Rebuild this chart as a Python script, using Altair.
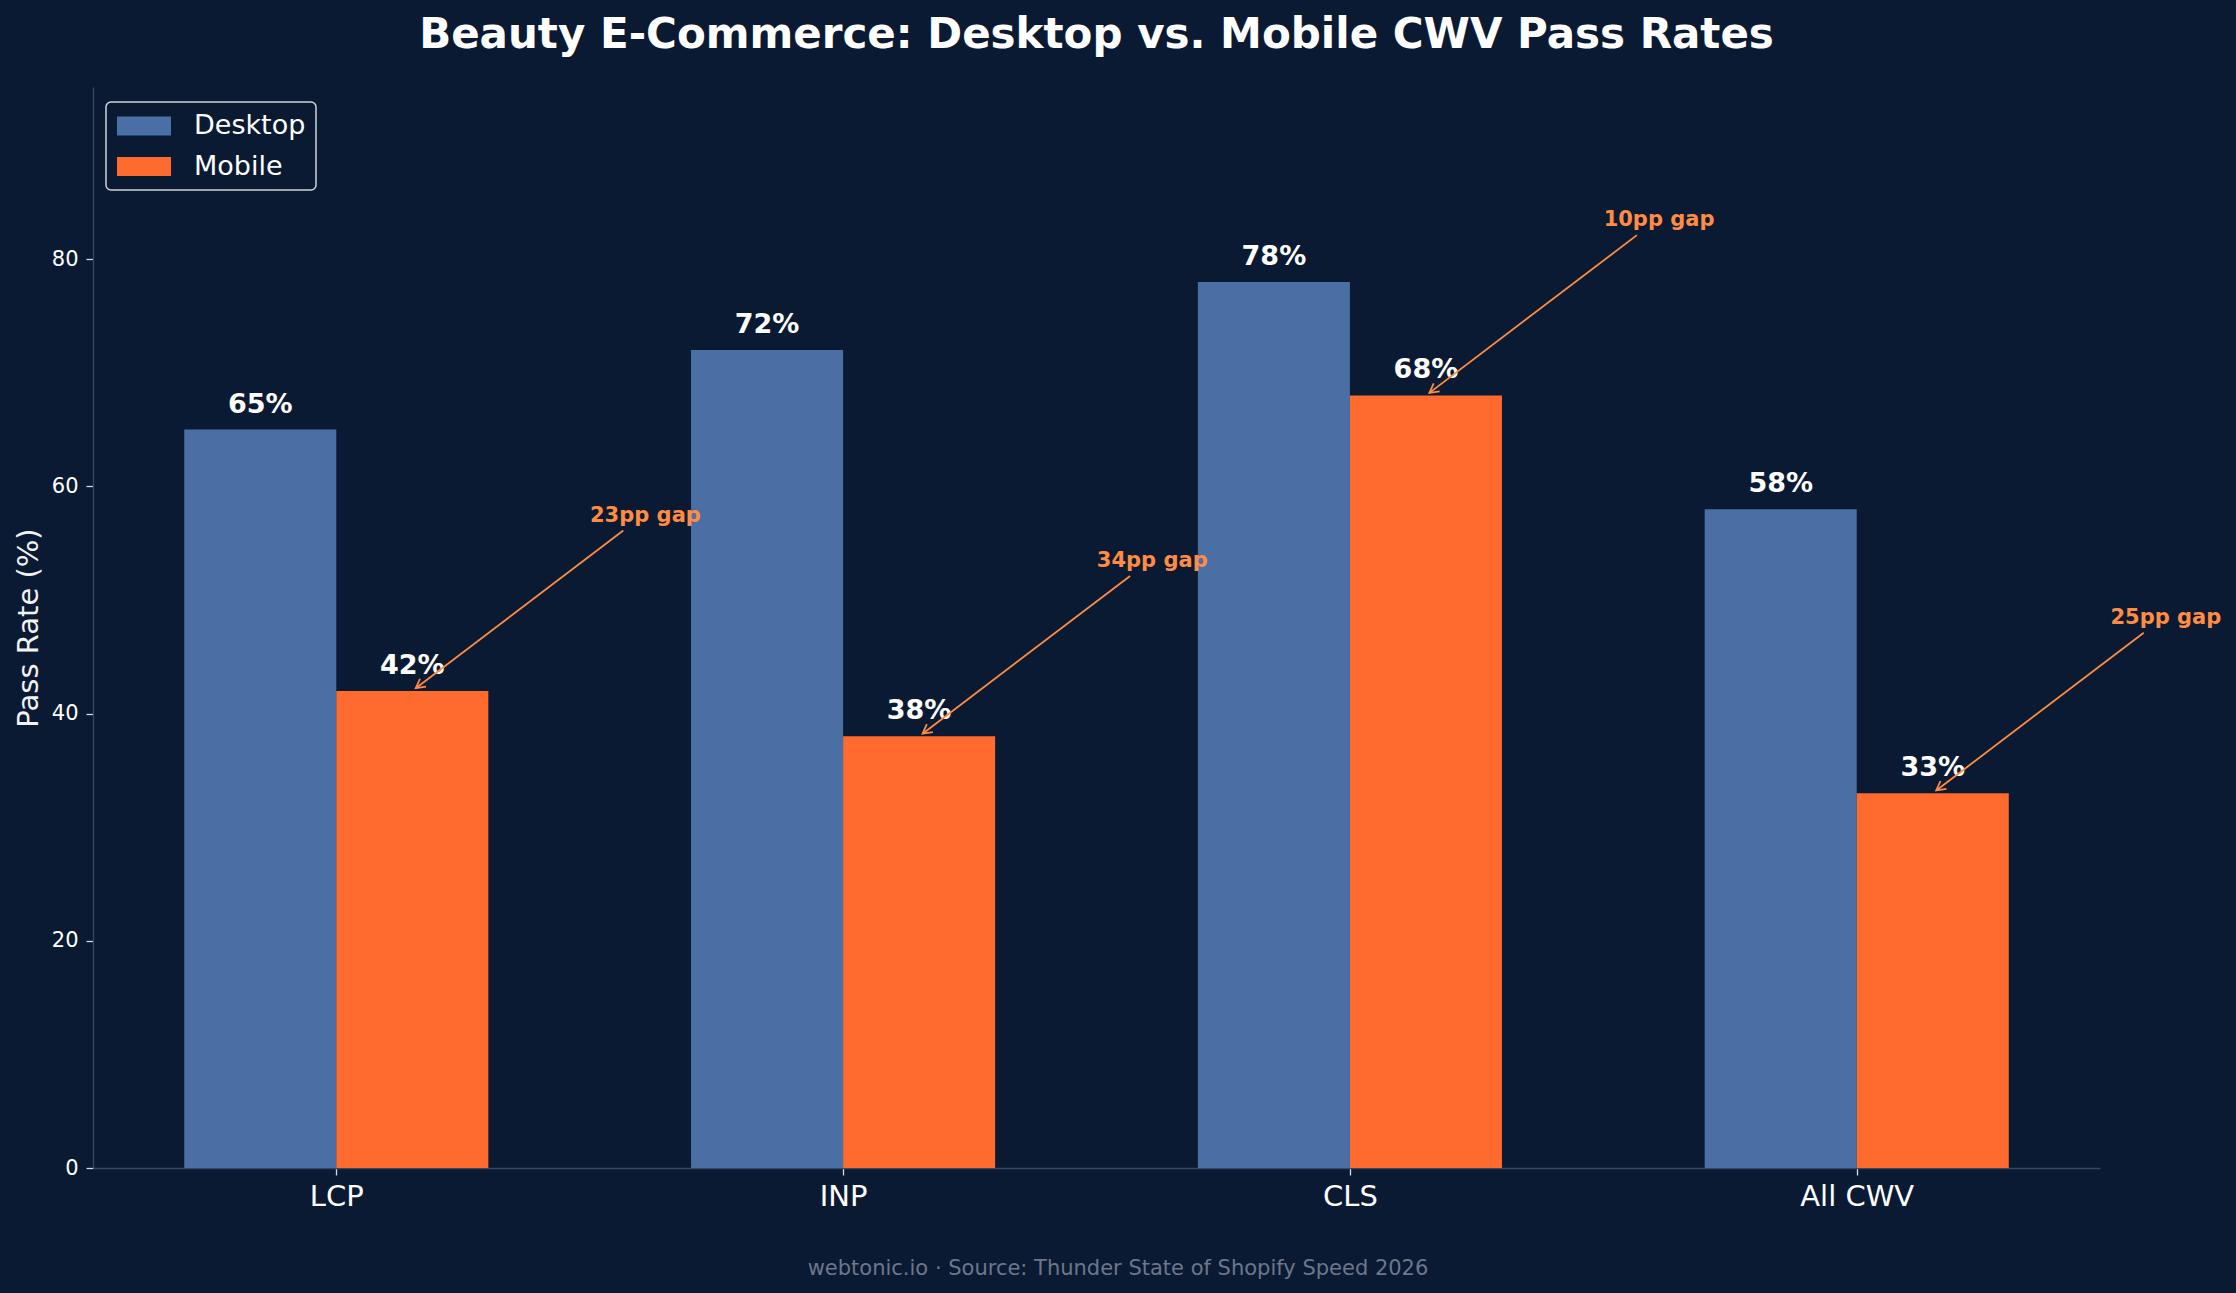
import json
import math

import altair as alt
import pandas as pd

# ---- data -------------------------------------------------------------
metrics = ["LCP", "INP", "CLS", "All CWV"]
desktop = [65, 72, 78, 58]
mobile = [42, 38, 68, 33]
series = ["Desktop", "Mobile"]
y_ticks = [0, 20, 40, 60, 80]

title_text = "Beauty E-Commerce: Desktop vs. Mobile CWV Pass Rates"
footer_text = "webtonic.io · Source: Thunder State of Shopify Speed 2026"

# ---- style ------------------------------------------------------------
BG = "#0b1a33"
DESK = "#4a6fa5"
MOB = "#ff6b2f"
ACCENT = "#ff8c42"
SPINE = "#3b475d"
FONT = "DejaVu Sans"

LEFT, TOP = 93, 87
W, H = 2007, 1081
BAR = 0.3
X_DOM = [-0.48, len(metrics) - 1 + 0.48]
Y_DOM = [0, max(desktop) * 1.22]

# ---- tables -----------------------------------------------------------
rows = []
for i, m in enumerate(metrics):
    for s, vals, off in (("Desktop", desktop, -BAR / 2), ("Mobile", mobile, BAR / 2)):
        c = i + off
        rows.append(dict(metric=m, series=s, value=vals[i], zero=0, xc=c,
                         x0=c - BAR / 2, x1=c + BAR / 2,
                         ly=vals[i] + 1.5, label=f"{vals[i]}%"))
bars_df = pd.DataFrame(rows)

px_x = W / (X_DOM[1] - X_DOM[0])
px_y = H / (Y_DOM[1] - Y_DOM[0])
ann = []
for i, m in enumerate(metrics):
    gap = desktop[i] - mobile[i]
    tx, ty = i + BAR / 2, mobile[i]          # arrow target: top of mobile bar
    ax, ay = i + 0.61, mobile[i] + 15.6      # text anchor
    sx, sy = ax + 0.095 * (tx - ax), ay + 0.095 * (ty - ay)
    ex, ey = ax + 0.985 * (tx - ax), ay + 0.985 * (ty - ay)
    dx_s = (tx - ax) * px_x
    dy_s = -(ty - ay) * px_y
    ang = math.degrees(math.atan2(dx_s, -dy_s)) % 360
    ann.append(dict(metric=m, sx=sx, sy=sy, ex=ex, ey=ey, ang=ang,
                    tx=ax, ty=mobile[i] + 14.9, text=f"{gap}pp gap"))
ann_df = pd.DataFrame(ann)

# ---- shared scales / axes ---------------------------------------------
x_scale = alt.Scale(domain=X_DOM, nice=False, zero=False)
y_scale = alt.Scale(domain=Y_DOM, nice=False, zero=False)

x_axis = alt.Axis(
    values=list(range(len(metrics))),
    labelExpr=f"{json.dumps(metrics)}[datum.value]",
    title=None, grid=False, labelFontSize=29, labelPadding=7,
    tickSize=7, labelFlush=False, labelOverlap=False,
)
y_axis = alt.Axis(
    values=y_ticks, title="Pass Rate (%)", grid=False, labelFontSize=21,
    labelPadding=8, tickSize=7, labelFlush=False, titleFontSize=29,
    titleFontWeight="normal", titlePadding=8, titleColor="#f2f2f2",
)


def X(field):
    return alt.X(field, type="quantitative", scale=x_scale, axis=x_axis)


def Y(field):
    return alt.Y(field, type="quantitative", scale=y_scale, axis=y_axis)


bars = alt.Chart(bars_df).mark_bar(strokeWidth=0).encode(
    x=X("x0"),
    x2="x1:Q",
    y=Y("value"),
    y2="zero:Q",
    color=alt.Color(
        "series:N",
        scale=alt.Scale(domain=series, range=[DESK, MOB]),
        legend=alt.Legend(
            title=None, orient="none", legendX=13, legendY=102 - TOP,
            fillColor=BG, strokeColor="#cfd3da",
            cornerRadius=5, padding=10,
            symbolType="M-0.929,-0.671H2.929V0.671H-0.929Z", symbolSize=784,
            symbolStrokeWidth=0, symbolOpacity=1,
            labelFontSize=27, labelColor="#ffffff", labelFont=FONT,
            labelOffset=50, rowPadding=13.5,
        ),
    ),
)

values = alt.Chart(bars_df).mark_text(
    font=FONT, fontSize=27, fontWeight="bold", color="#ffffff",
    baseline="alphabetic", align="center",
).encode(x=X("xc"), y=Y("ly"), text="label:N")

arrows = alt.Chart(ann_df).mark_rule(color=ACCENT, strokeWidth=1.8).encode(
    x=X("sx"), y=Y("sy"), x2="ex:Q", y2="ey:Q",
)

heads = alt.Chart(ann_df).mark_point(
    shape="M-0.55,1L0,0L0.55,1", filled=False, size=330,
    strokeWidth=1.8, color=ACCENT, opacity=1,
).encode(x=X("ex"), y=Y("ey"), angle=alt.Angle("ang:Q", scale=None))

gaps = alt.Chart(ann_df).mark_text(
    font=FONT, fontSize=21, fontWeight="bold", color=ACCENT,
    baseline="alphabetic", align="center",
).encode(x=X("tx"), y=Y("ty"), text="text:N")

footer = alt.Chart(pd.DataFrame({"t": [footer_text]})).mark_text(
    font=FONT, fontSize=21, color="#6b778a", baseline="alphabetic",
    align="center",
).encode(x=alt.value(1118 - LEFT), y=alt.value(1275 - TOP), text="t:N")

chart = alt.layer(bars, values, arrows, heads, gaps, footer).properties(
    width=W,
    height=H,
    padding={"left": LEFT, "top": TOP, "right": 2236 - LEFT - W,
             "bottom": 1293 - TOP - H},
    autosize=alt.AutoSizeParams(type="none"),
    background=BG,
    title=alt.TitleParams(
        title_text, font=FONT, fontSize=42, fontWeight="bold",
        color="#ffffff", anchor="middle", frame="group", offset=30,
    ),
).configure_view(stroke=None).configure_axis(
    domainColor=SPINE, domainWidth=1.3, tickColor="#d5d9e0", tickWidth=1.3,
    labelColor="#ffffff", labelFont=FONT, titleFont=FONT,
).configure_legend(strokeWidth=1.5)

chart.save("out.html", embed_options={"renderer": "svg", "actions": False})
